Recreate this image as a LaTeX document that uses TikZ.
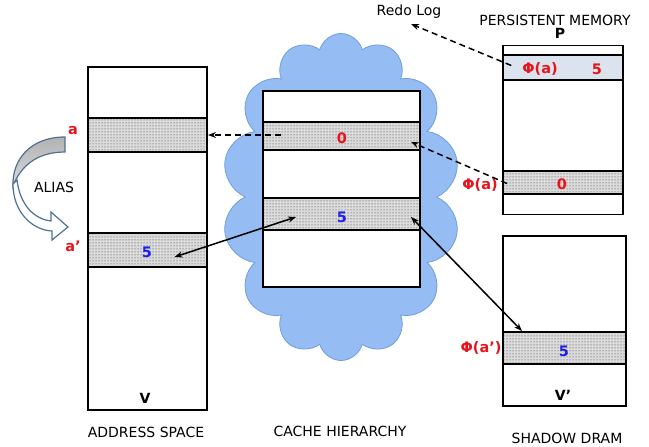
\documentclass[tikz,border=0pt]{standalone}
\usepackage{fontspec}
\setmainfont{DejaVu Sans}
\usetikzlibrary{shapes.symbols,patterns,arrows.meta,calc}
\definecolor{cloudfill}{RGB}{150,189,243}
\definecolor{cloudline}{RGB}{110,158,220}
\definecolor{redtxt}{RGB}{232,20,28}
\definecolor{bluetxt}{RGB}{30,30,240}
\definecolor{pmband}{RGB}{219,227,239}
\definecolor{aliasline}{RGB}{80,112,148}
\begin{document}
\begin{tikzpicture}[x=1pt,y=-1pt,
  memBox/.style={draw=black,line width=1.5pt,fill=white,inner sep=0pt,minimum width=#1},
  dotBand/.style={draw=black,line width=2pt,inner sep=0pt,minimum width=#1,
    preaction={fill=black!14},pattern=dots,pattern color=black!80},
  lbl/.style={font=\fontsize{14}{16}\selectfont,inner sep=1pt},
  rlbl/.style={font=\fontsize{14.5}{16}\selectfont\bfseries,text=redtxt,inner sep=1pt},
  blbl/.style={font=\fontsize{14.5}{16}\selectfont\bfseries,text=bluetxt,inner sep=1pt},
  klbl/.style={font=\fontsize{14}{16}\selectfont\bfseries,inner sep=1pt},
  dashArrow/.style={line width=1.5pt,dash pattern=on 6pt off 4pt,-{Stealth[length=8pt,width=6pt]}},
  solidArrow/.style={line width=1.5pt,{Stealth[length=8pt,width=6pt]}-{Stealth[length=8pt,width=6pt]}}
]
\useasboundingbox (0,0) rectangle (649,447);

% cloud
\node[cloud,cloud puffs=14,aspect=0.74,draw=cloudline,fill=cloudfill,line width=0.8pt,
  minimum width=238pt,minimum height=327pt,inner sep=0pt] (cloud) at (341,197) {};

% address space
\node[memBox=119pt,minimum height=343pt] (as) at (147.5,238.5) {};
\node[dotBand=119pt,minimum height=34pt] (asa) at (147.5,135) {};
\node[dotBand=119pt,minimum height=34pt] (asb) at (147.5,250) {};
\node[blbl] (as5) at (147,252) {5};
\node[klbl] (asv) at (145,398) {V};
\node[lbl] (asname) at (146,432) {ADDRESS SPACE};
\node[rlbl] (la) at (73,131) {a};
\node[rlbl] (lb) at (73,246) {a’};

% alias arrow
\shade[top color=black!30,bottom color=black!15,draw=aliasline,line width=1.2pt]
  (65,137) .. controls (30,137) and (12,160) .. (13,186)
  .. controls (20,168) and (35,152) .. (65,152) -- cycle;
\path[fill=white,draw=aliasline,line width=1.2pt]
  (13,184) .. controls (13,212) and (32,230) .. (52,231) -- (52,240) -- (68,227) -- (51,212)
  -- (51,221) .. controls (34,219) and (20,205) .. (17,180) -- cycle;
\node[lbl] (alias) at (54,187) {ALIAS};

% cache
\node[memBox=157pt,minimum height=196pt] (cache) at (341.5,189) {};
\node[dotBand=157pt,minimum height=28pt] (cb0) at (341.5,136) {};
\node[dotBand=157pt,minimum height=32pt] (cb5) at (341.5,214) {};
\node[rlbl] (c0) at (342,138) {0};
\node[blbl] (c5) at (342,217) {5};
\node[lbl] (cname) at (340,431) {CACHE HIERARCHY};

% persistent memory
\node[memBox=120pt,minimum height=169pt] (pm) at (563,130) {};
\node[draw=black,line width=1.5pt,fill=pmband,minimum width=120pt,minimum height=25pt,inner sep=0pt] (pmt) at (563,67.5) {};
\node[dotBand=120pt,minimum height=23pt] (pmb) at (563,182.5) {};
\node[rlbl] (phia) at (540,69) {Φ(a)};
\node[rlbl] (p5) at (597,69) {5};
\node[rlbl] (p0) at (562,184) {0};
\node[rlbl] (phia2) at (480,185) {Φ(a)};
\node[lbl] (pmname) at (555,20) {PERSISTENT MEMORY};
\node[klbl] (pmp) at (560,33) {P};
\node[lbl] (redo) at (409,12) {Redo Log};

% shadow dram
\node[memBox=123pt,minimum height=170pt] (sd) at (564.5,321) {};
\node[dotBand=123pt,minimum height=32pt] (sdb) at (564.5,348) {};
\node[blbl] (s5) at (564,351) {5};
\node[rlbl] (phib) at (481,348) {Φ(a’)};
\node[klbl] (sv) at (563,395) {V’};
\node[lbl] (sdname) at (567,438) {SHADOW DRAM};

% connectors
\coordinate (redoEnd) at (411,24);
\draw[dashArrow] ($(pmt.west)+(9,-2)$) -- (redoEnd);
\draw[dashArrow] ($(pmb.west)+(5,1)$) -- ($(cb0.east)+(-10,6)$);
\draw[dashArrow] ($(cb0.west)+(19,-1)$) -- (asa.east);
\draw[solidArrow] ($(asb.center)+(27,7)$) -- ($(cb5.west)+(34,3)$);
\draw[solidArrow] ($(cb5.east)+(-10,3)$) -- ($(sdb.north west)+(20,0)$);
\end{tikzpicture}
\end{document}
